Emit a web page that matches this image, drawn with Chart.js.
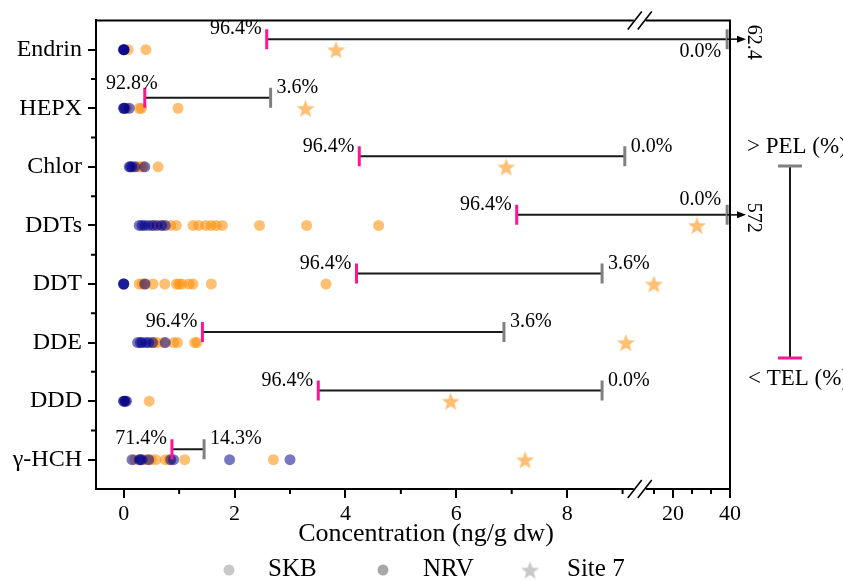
<!DOCTYPE html>
<html>
<head>
<meta charset="utf-8">
<script src="https://cdn.jsdelivr.net/npm/chart.js@4.4.1/dist/chart.umd.min.js"></script>
<style>
  html, body { margin: 0; padding: 0; background: #fff; }
</style>
</head>
<body>
<canvas id="chart" width="843" height="580"></canvas>
<script>
// ===== data (ng/g dw) =====
const compounds = ['Endrin', 'HEPX', 'Chlor', 'DDTs', 'DDT', 'DDE', 'DDD', 'γ-HCH'];

const skbValues = [
    [0.08, 0.4],
    [0.05, 0.28, 0.32, 0.98],
    [0.25, 0.3, 0.35, 0.62],
    [0.55, 0.7, 0.85, 0.95, 1.25, 1.35, 1.48, 1.58, 1.67, 1.78, 2.45, 3.3, 4.6],
    [0.28, 0.33, 0.4, 0.53, 0.74, 0.95, 1.0, 1.05, 1.18, 1.25, 1.58, 3.65],
    [0.55, 0.6, 0.72, 0.9, 0.97, 1.28, 1.32],
    [0.02, 0.46],
    [0.2, 0.4, 0.5, 0.58, 0.75, 0.82, 1.1, 2.7]
];
const nrvValues = [
    [0, 0, 0, 0.01],
    [0, 0, 0.02, 0.1],
    [0.1, 0.12, 0.15, 0.2, 0.38],
    [0.28, 0.33, 0.38, 0.45, 0.52, 0.6, 0.68, 0.75],
    [0, 0, 0, 0.38],
    [0.25, 0.3, 0.33, 0.4, 0.45, 0.52, 0.75],
    [0, 0, 0.03, 0.05],
    [0.15, 0.28, 0.3, 0.33, 0.45, 0.85, 0.9, 1.91, 3.0]
];
const site7Values = [3.83, 3.28, 6.9, 28.4, 13.3, 9.06, 5.9, 7.24];

// TEL / PEL guideline values and the share of samples below TEL / above PEL
const telValues = [2.58, 0.38, 4.25, 7.09, 4.2, 1.42, 3.51, 0.87];
const pelValues = [39, 2.65, 9.04, 39, 8.63, 6.86, 8.63, 1.45];
const belowTel = ['96.4%', '92.8%', '96.4%', '96.4%', '96.4%', '96.4%', '96.4%', '71.4%'];
const abovePel = ['0.0%', '3.6%', '0.0%', '0.0%', '3.6%', '3.6%', '0.0%', '14.3%'];
const pelOffScale = ['62.4', null, null, '572', null, null, null, null];

const xMajorTicks = [0, 2, 4, 6, 8, 20, 40];
const xMinorTicks = [1, 3, 5, 7, 9, 13.33, 26.67, 33.33];

// ===== broken x axis: 0..9.3 linear, then a compressed 10..40 part =====
const BREAK_AT = 9.31;
function toAxis(v) {
    return v <= 9.5 ? v : 9.91 + (v - 20) * 0.0514;
}

const RANGE_SHIFT = 0.18;   // TEL-PEL bar sits a little above the dots
const SERIF = "'Liberation Serif', 'Times New Roman', serif";
const PINK = '#ff1493';
const GREY = '#808080';

Chart.defaults.font.family = SERIF;
Chart.defaults.color = '#000';

// filled star used as point style
function makeStar(color, size) {
    const c = document.createElement('canvas');
    c.width = size;
    c.height = size;
    const g = c.getContext('2d');
    const R = size / 2, r = R * 0.42, cx = size / 2, cy = size / 2 + size * 0.05;
    g.beginPath();
    for (let k = 0; k < 10; k++) {
        const a = -Math.PI / 2 + k * Math.PI / 5;
        const rad = k % 2 ? r : R;
        g.lineTo(cx + rad * Math.cos(a), cy + rad * Math.sin(a));
    }
    g.closePath();
    g.fillStyle = color;
    g.fill();
    return c;
}

function dots(series) {
    const out = [];
    series.forEach((vals, i) => vals.forEach(v => out.push({ x: toAxis(v), y: i })));
    return out;
}

const datasets = [];

// TEL -> PEL bars
compounds.forEach((c, i) => {
    datasets.push({
        label: c + ' range',
        data: [
            { x: toAxis(telValues[i]), y: i - RANGE_SHIFT },
            { x: toAxis(pelValues[i]), y: i - RANGE_SHIFT }
        ],
        showLine: true,
        borderColor: '#1a1a1a',
        borderWidth: 2,
        pointRadius: 0,
        order: -2
    });
});

datasets.push({
    label: 'TEL',
    data: telValues.map((v, i) => ({ x: toAxis(v), y: i - RANGE_SHIFT })),
    pointStyle: 'line',
    rotation: 90,
    pointRadius: 10,
    pointBorderWidth: 3,
    pointBorderColor: PINK,
    borderColor: PINK,
    order: -3
});
datasets.push({
    label: 'PEL',
    data: pelValues.map((v, i) => ({ x: toAxis(v), y: i - RANGE_SHIFT })),
    pointStyle: 'line',
    rotation: 90,
    pointRadius: 10,
    pointBorderWidth: 3,
    pointBorderColor: GREY,
    borderColor: GREY,
    order: -3
});

datasets.push({
    label: 'Site 7',
    data: site7Values.map((v, i) => ({ x: toAxis(v), y: i })),
    pointStyle: makeStar('rgba(255,140,0,0.55)', 19),
    order: -1
});
datasets.push({
    label: 'NRV',
    data: dots(nrvValues),
    pointRadius: 5.5,
    pointBorderWidth: 0,
    backgroundColor: 'rgba(0,0,139,0.53)',
    order: 0
});
datasets.push({
    label: 'SKB',
    data: dots(skbValues),
    pointRadius: 5.5,
    pointBorderWidth: 0,
    backgroundColor: 'rgba(255,140,0,0.55)',
    order: 1
});

// ===== frame, minor ticks, axis break, annotations, legend =====
const decorPlugin = {
    id: 'decor',
    afterDraw(chart) {
        const ctx = chart.ctx;
        const area = chart.chartArea;
        const xs = chart.scales.x;
        const ys = chart.scales.y;

        ctx.save();
        ctx.strokeStyle = '#000';
        ctx.lineWidth = 2;

        // top and right frame
        ctx.beginPath();
        ctx.moveTo(area.left, area.top);
        ctx.lineTo(area.right, area.top);
        ctx.lineTo(area.right, area.bottom);
        ctx.stroke();

        // minor ticks
        ctx.beginPath();
        xMinorTicks.forEach(v => {
            const px = xs.getPixelForValue(toAxis(v));
            ctx.moveTo(px, area.bottom);
            ctx.lineTo(px, area.bottom + 5);
        });
        for (let k = 0; k < compounds.length - 1; k++) {
            const py = ys.getPixelForValue(k + 0.5);
            ctx.moveTo(area.left, py);
            ctx.lineTo(area.left - 5, py);
        }
        ctx.stroke();

        // axis break marks
        const bx = xs.getPixelForValue(BREAK_AT);
        [area.top, area.bottom].forEach(by => {
            ctx.fillStyle = '#fff';
            ctx.fillRect(bx - 6, by - 3, 12, 6);
            ctx.lineWidth = 1.6;
            ctx.beginPath();
            [-5, 5].forEach(dx => {
                ctx.moveTo(bx + dx - 7, by + 9);
                ctx.lineTo(bx + dx + 7, by - 9);
            });
            ctx.stroke();
        });

        // percentage labels and off-scale arrows
        ctx.fillStyle = '#000';
        ctx.font = '20px ' + SERIF;
        ctx.textBaseline = 'middle';
        ctx.textAlign = 'left';
        compounds.forEach((c, i) => {
            const y = ys.getPixelForValue(i - RANGE_SHIFT);
            const xTel = xs.getPixelForValue(toAxis(telValues[i]));
            const xPel = xs.getPixelForValue(toAxis(pelValues[i]));

            let w = ctx.measureText(belowTel[i]).width;
            let tx = xTel - 5 - w;
            let ty = y - 10;
            if (tx < area.left + 6) {
                tx = area.left + 10;
                ty = y - 14;
            }
            ctx.fillText(belowTel[i], tx, ty);

            w = ctx.measureText(abovePel[i]).width;
            tx = xPel + 6;
            ty = y - 10;
            if (tx + w > area.right) {
                tx = xPel - 6 - w;
                ty = y - 15;
                if (ty - 10 < area.top) ty = y + 13;
            }
            ctx.fillText(abovePel[i], tx, ty);

            if (pelOffScale[i]) {
                ctx.lineWidth = 1.5;
                ctx.beginPath();
                ctx.moveTo(xPel, y);
                ctx.lineTo(area.right + 9, y);
                ctx.stroke();
                ctx.beginPath();
                ctx.moveTo(area.right + 16, y);
                ctx.lineTo(area.right + 7, y - 3.5);
                ctx.lineTo(area.right + 7, y + 3.5);
                ctx.closePath();
                ctx.fill();

                ctx.save();
                ctx.translate(area.right + 23, y + 3);
                ctx.rotate(Math.PI / 2);
                ctx.textAlign = 'center';
                ctx.fillText(pelOffScale[i], 0, 0);
                ctx.restore();
            }
        });

        // key for the TEL-PEL bar
        const kx = area.right + 60;
        const kTop = 166, kBottom = 358;
        ctx.font = '23px ' + SERIF;
        ctx.textAlign = 'left';
        ctx.fillText('> PEL (%)', area.right + 17, 147);
        ctx.fillText('< TEL (%)', area.right + 18, 379);
        ctx.strokeStyle = '#1a1a1a';
        ctx.lineWidth = 2;
        ctx.beginPath();
        ctx.moveTo(kx, kTop);
        ctx.lineTo(kx, kBottom);
        ctx.stroke();
        ctx.lineWidth = 3;
        ctx.strokeStyle = GREY;
        ctx.beginPath();
        ctx.moveTo(kx - 12, kTop);
        ctx.lineTo(kx + 12, kTop);
        ctx.stroke();
        ctx.strokeStyle = PINK;
        ctx.beginPath();
        ctx.moveTo(kx - 12, kBottom);
        ctx.lineTo(kx + 12, kBottom);
        ctx.stroke();

        // bottom legend
        const legendY = 570;
        const items = [
            { text: 'SKB', color: '#c8c8c8', mx: 229, tx: 268, star: false },
            { text: 'NRV', color: '#a8a8a8', mx: 383, tx: 423, star: false },
            { text: 'Site 7', color: '#c8c8c8', mx: 530, tx: 567, star: true }
        ];
        ctx.font = '25px ' + SERIF;
        items.forEach(it => {
            if (it.star) {
                const s = makeStar(it.color, 19);
                ctx.drawImage(s, it.mx - 9.5, legendY - 9.5);
            } else {
                ctx.fillStyle = it.color;
                ctx.beginPath();
                ctx.arc(it.mx, legendY, 5.5, 0, Math.PI * 2);
                ctx.fill();
            }
            ctx.fillStyle = '#000';
            ctx.fillText(it.text, it.tx, legendY - 1);
        });

        ctx.restore();
    }
};

new Chart(document.getElementById('chart'), {
    type: 'scatter',
    data: { datasets: datasets },
    options: {
        responsive: false,
        animation: false,
        devicePixelRatio: 1,
        layout: { padding: { top: 18, right: 113, bottom: 25, left: 0 } },
        plugins: {
            legend: { display: false },
            tooltip: { enabled: false }
        },
        scales: {
            x: {
                type: 'linear',
                min: -0.5,
                max: toAxis(40),
                afterBuildTicks: function(scale) {
                    scale.ticks = xMajorTicks.map(v => ({ value: toAxis(v) }));
                },
                afterFit: function(scale) {
                    scale.height = 66;
                },
                ticks: {
                    callback: function(value, index) {
                        return String(xMajorTicks[index]);
                    },
                    font: { size: 22 },
                    color: '#000',
                    padding: 3,
                    maxRotation: 0,
                    autoSkip: false
                },
                grid: {
                    display: true,
                    drawOnChartArea: false,
                    drawTicks: true,
                    tickLength: 9,
                    color: '#000',
                    lineWidth: 2
                },
                border: { display: true, color: '#000', width: 2 },
                title: {
                    display: true,
                    text: '    Concentration (ng/g dw)',
                    font: { size: 26 },
                    color: '#000',
                    padding: { top: 0, bottom: 5 }
                }
            },
            y: {
                type: 'linear',
                min: -0.5,
                max: compounds.length - 0.5,
                reverse: true,
                afterBuildTicks: function(scale) {
                    scale.ticks = compounds.map((c, i) => ({ value: i }));
                },
                afterFit: function(scale) {
                    scale.width = 96;
                },
                ticks: {
                    callback: function(value) {
                        return compounds[value];
                    },
                    font: { size: 24 },
                    color: '#000',
                    padding: 6,
                    autoSkip: false
                },
                grid: {
                    display: true,
                    drawOnChartArea: false,
                    drawTicks: true,
                    tickLength: 8,
                    color: '#000',
                    lineWidth: 2
                },
                border: { display: true, color: '#000', width: 2 }
            }
        }
    },
    plugins: [decorPlugin]
});
</script>
</body>
</html>
